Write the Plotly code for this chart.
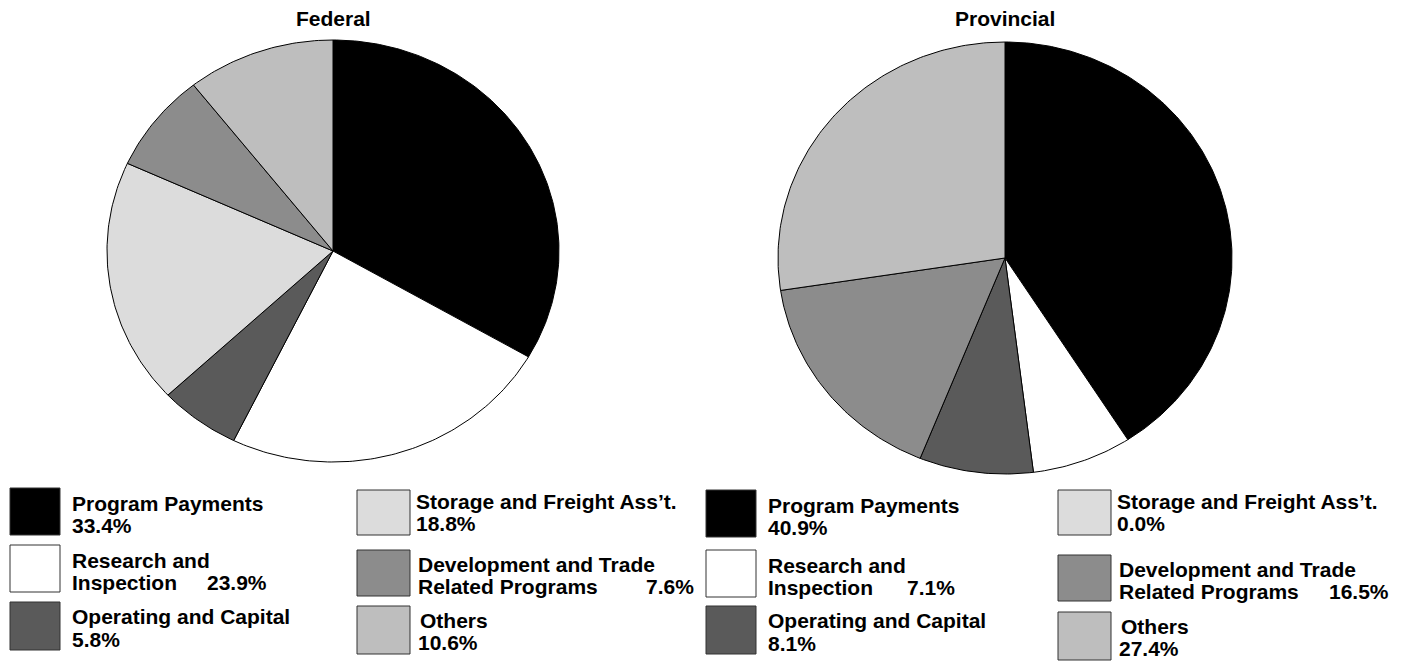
import numpy as np
import plotly.graph_objects as go

categories = ["Program Payments", "Research and Inspection", "Operating and Capital",
              "Storage and Freight Ass\u2019t.", "Development and Trade Related Programs", "Others"]
federal = [33.4, 23.9, 5.8, 18.8, 7.6, 10.6]
provincial = [40.9, 7.1, 8.1, 0.0, 16.5, 27.4]
colors = ["#000000", "#ffffff", "#5a5a5a", "#dcdcdc", "#8c8c8c", "#bebebe"]

W, H = 1405, 662
FONT = "Liberation Sans, Arial, sans-serif"

fig = go.Figure()


def add_pie(values, cx, cy, rx, ry):
    total = sum(values)
    start = 0.0
    for v, c, name in zip(values, colors, categories):
        if v <= 0:
            continue
        end = start + v / total * 2 * np.pi
        t = np.linspace(start, end, max(int(v * 4), 8))
        xs = np.concatenate([[cx], cx + rx * np.sin(t), [cx]])
        ys = np.concatenate([[cy], cy - ry * np.cos(t), [cy]])
        fig.add_trace(go.Scatter(x=xs, y=ys, mode="lines", fill="toself",
                                 fillcolor=c, line=dict(color="#000000", width=1),
                                 name=name, hoverinfo="name", showlegend=False))
        start = end


add_pie(federal, 333, 251, 226, 211)
add_pie(provincial, 1005, 258, 227, 216)


def txt(x, y, s, size=21):
    fig.add_annotation(x=x, y=y, text="<b>" + s + "</b>", showarrow=False,
                       xanchor="left", yanchor="middle",
                       font=dict(family=FONT, size=size, color="#000000"))


def box(x0, y0, x1, y1, c):
    fig.add_shape(type="rect", x0=x0, y0=y0, x1=x1, y1=y1, fillcolor=c,
                  line=dict(color="#333333", width=1), layer="above")


def legend(values, left, right, lt, rt, pct_ins, pct_rel):
    # left column
    box(left, lt[0], left + 50, lt[0] + 47, colors[0])
    txt(left + 60, lt[0] + 15, categories[0])
    txt(left + 60, lt[0] + 37, "%.1f%%" % values[0])
    box(left, lt[1], left + 50, lt[1] + 47, colors[1])
    txt(left + 60, lt[1] + 15, "Research and")
    txt(left + 60, lt[1] + 37, "Inspection")
    txt(pct_ins, lt[1] + 37, "%.1f%%" % values[1])
    box(left, lt[2], left + 50, lt[2] + 48, colors[2])
    txt(left + 60, lt[2] + 14, categories[2])
    txt(left + 60, lt[2] + 37, "%.1f%%" % values[2])
    # right column
    box(right, rt[0], right + 53, rt[0] + 45, colors[3])
    txt(right + 57, rt[0] + 11, categories[3])
    txt(right + 57, rt[0] + 33, "%.1f%%" % values[3])
    box(right, rt[1], right + 53, rt[1] + 46, colors[4])
    txt(right + 59, rt[1] + 14, "Development and Trade")
    txt(right + 59, rt[1] + 36, "Related Programs")
    txt(pct_rel, rt[1] + 36, "%.1f%%" % values[4])
    box(right, rt[2], right + 53, rt[2] + 48, colors[5])
    txt(right + 61, rt[2] + 14, categories[5])
    txt(right + 59, rt[2] + 36, "%.1f%%" % values[5])


legend(federal, 10, 357, [488, 545, 602], [490, 550, 606], 205, 644)
legend(provincial, 706, 1058, [490, 550, 606], [490, 555, 612], 905, 1327)

for x, s in [(333, "Federal"), (1005, "Provincial")]:
    fig.add_annotation(x=x, y=18, text="<b>" + s + "</b>", showarrow=False,
                       xanchor="center", yanchor="middle",
                       font=dict(family=FONT, size=21, color="#000000"))

fig.update_xaxes(range=[0, W], visible=False, fixedrange=True)
fig.update_yaxes(range=[H, 0], visible=False, fixedrange=True)
fig.update_layout(width=W, height=H, margin=dict(l=0, r=0, t=0, b=0),
                  plot_bgcolor="#ffffff", paper_bgcolor="#ffffff", showlegend=False)

fig.write_html("out.html", config={"displayModeBar": False},
               post_script="document.body.style.margin='0';")
